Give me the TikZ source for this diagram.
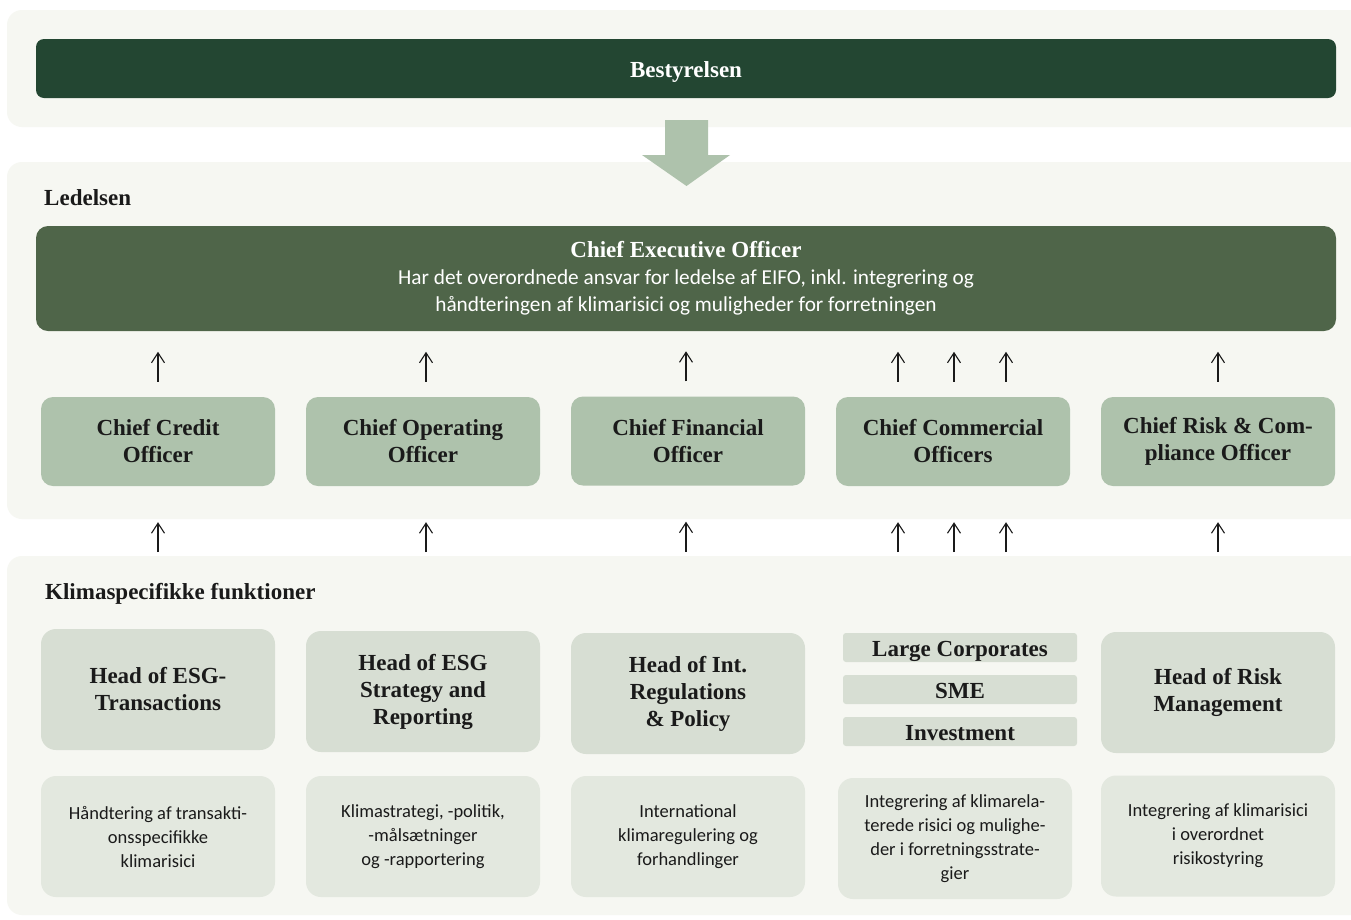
\documentclass[tikz,border=0pt]{standalone}
\usepackage{fontspec}
\setmainfont{Liberation Serif}
\newfontfamily\sansf{Carlito}
\usetikzlibrary{arrows.meta}
\definecolor{panelbg}{HTML}{F6F7F2}
\definecolor{boardc}{HTML}{234632}
\definecolor{ceoc}{HTML}{4F6549}
\definecolor{chiefc}{HTML}{AEC2AC}
\definecolor{headc}{HTML}{D7DED3}
\definecolor{descc}{HTML}{E3E8DF}
\definecolor{inkc}{HTML}{1A1A1A}
\newcommand{\ceosub}{\sansf\mdseries\fontsize{21.3}{27}\selectfont}
\tikzset{
  panel/.style={fill=panelbg, rounded corners=15pt},
  bold23/.style={font=\fontsize{23}{27}\selectfont\bfseries},
  chiefbox/.style={fill=chiefc, rounded corners=12pt, minimum width=234pt, minimum height=89pt, align=center, text=inkc, bold23, inner sep=0pt},
  headbox/.style={fill=headc, rounded corners=15pt, minimum width=234pt, minimum height=121pt, align=center, text=inkc, bold23, inner sep=0pt},
  barbox/.style={fill=headc, rounded corners=3pt, minimum width=234pt, minimum height=29pt, align=center, text=inkc, bold23, inner sep=0pt, text height=17pt, text depth=0pt},
  descbox/.style={fill=descc, rounded corners=15pt, minimum width=234pt, minimum height=121pt, align=center, text=inkc, font=\sansf\fontsize{18.5}{24}\selectfont, inner sep=0pt},
  seclabel/.style={anchor=west, text=inkc, bold23, inner sep=0pt},
  uparrow/.style={draw=inkc, line width=1.1pt, -{Straight Barb[length=10pt,width=13pt]}},
}
\begin{document}
\begin{tikzpicture}[x=1pt,y=-1pt]
\clip (0,0) rectangle (1351,919);
\fill[white] (0,0) rectangle (1351,919);
% panels
\fill[panel] (7,10) rectangle (1370,127);
\fill[panel] (7,162) rectangle (1370,519);
\fill[panel] (7,556) rectangle (1370,915);
% board
\node[fill=boardc, rounded corners=8pt, minimum width=1300pt, minimum height=59pt, inner sep=0pt, text=white, bold23, text height=17pt, text depth=0pt] (board) at (686,68.5) {Bestyrelsen};
% big arrow
\fill[chiefc] (665,120) -- (708,120) -- (708,155) -- (730,155) -- (686.5,186) -- (642,155) -- (665,155) -- cycle;
% Ledelsen
\node[seclabel] (ledelsen) at (44,198) {Ledelsen};
\node[fill=ceoc, rounded corners=12pt, minimum width=1300pt, minimum height=105pt, inner sep=0pt, text=white, align=center, bold23] (ceo) at (686,278.5)
  {Chief Executive Officer\\\ceosub Har det overordnede ansvar for ledelse af EIFO, inkl. integrering og\\\ceosub håndteringen af klimarisici og muligheder for forretningen};
% chiefs
\node[chiefbox] (cco) at (158,441.5) {Chief Credit\\Officer};
\node[chiefbox] (coo) at (423,441.5) {Chief Operating\\Officer};
\node[chiefbox] (cfo) at (688,441) {Chief Financial\\Officer};
\node[chiefbox] (ccom) at (953,441.5) {Chief Commercial\\Officers};
\node[chiefbox] (crco) at (1218,441.5) {Chief Risk \& Com-\\pliance Officer};
% section 3
\node[seclabel] (klima) at (45,594) {Klimaspecifikke funktioner};
\node[headbox] (h1) at (158,689.5) {Head of ESG-\\Transactions};
\node[headbox] (h2) at (423,691.5) {Head of ESG\\Strategy and\\Reporting};
\node[headbox] (h3) at (688,693.5) {Head of Int.\\Regulations\\\& Policy};
\node[barbox] (b1) at (960,647.5) {Large Corporates};
\node[barbox] (b2) at (960,689.5) {SME};
\node[barbox] (b3) at (960,731.5) {Investment};
\node[headbox] (h5) at (1218,692.5) {Head of Risk\\Management};
\node[descbox] (d1) at (158,836.5) {Håndtering af transakti-\\onsspecifikke\\klimarisici};
\node[descbox] (d2) at (423,836.5) {Klimastrategi, -politik,\\-målsætninger\\og -rapportering};
\node[descbox] (d3) at (688,836.5) {International\\klimaregulering og\\forhandlinger};
\node[descbox] (d4) at (955,838.5) {Integrering af klimarela-\\terede risici og mulighe-\\der i forretningsstrate-\\gier};
\node[descbox] (d5) at (1218,836) {Integrering af klimarisici\\i overordnet\\risikostyring};
% upper arrows (chiefs -> CEO)
\foreach \n/\dx in {cco/0,coo/3,cfo/-2,ccom/-55,ccom/1,ccom/53,crco/0}{
  \draw[uparrow] ([xshift=\dx pt, yshift=15pt]\n.north) -- ([xshift=\dx pt, yshift=45pt]\n.north);
}
% lower arrows (functions -> chiefs)
\foreach \n/\dx in {cco/0,coo/3,cfo/-2,ccom/-55,ccom/1,ccom/53,crco/0}{
  \draw[uparrow] ([xshift=\dx pt, yshift=-66pt]\n.south) -- ([xshift=\dx pt, yshift=-36pt]\n.south);
}
\end{tikzpicture}
\end{document}
